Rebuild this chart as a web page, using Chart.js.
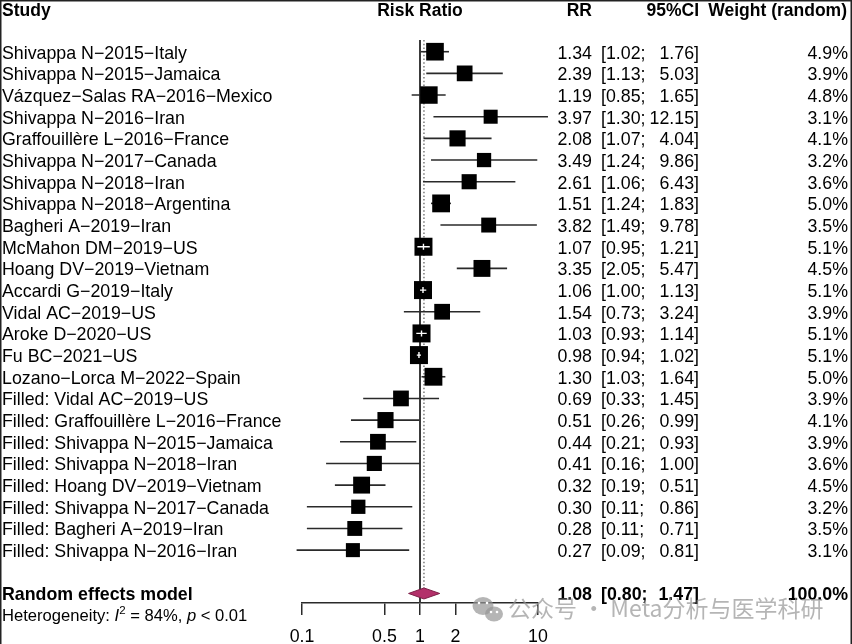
<!DOCTYPE html>
<html>
<head>
<meta charset="utf-8">
<script src="https://cdn.jsdelivr.net/npm/chart.js@4.4.0/dist/chart.umd.min.js"></script>
<style>
  html, body { margin: 0; padding: 0; background: #fff; }
  #wrap { position: relative; width: 852px; height: 644px; }
</style>
</head>
<body>
<div id="wrap"><canvas id="forest"></canvas></div>
<script>
// Study data
const studies = [
  'Shivappa N\u22122015\u2212Italy',
  'Shivappa N\u22122015\u2212Jamaica',
  'V\u00e1zquez\u2212Salas RA\u22122016\u2212Mexico',
  'Shivappa N\u22122016\u2212Iran',
  'Graffouill\u00e8re L\u22122016\u2212France',
  'Shivappa N\u22122017\u2212Canada',
  'Shivappa N\u22122018\u2212Iran',
  'Shivappa N\u22122018\u2212Argentina',
  'Bagheri A\u22122019\u2212Iran',
  'McMahon DM\u22122019\u2212US',
  'Hoang DV\u22122019\u2212Vietnam',
  'Accardi G\u22122019\u2212Italy',
  'Vidal AC\u22122019\u2212US',
  'Aroke D\u22122020\u2212US',
  'Fu BC\u22122021\u2212US',
  'Lozano\u2212Lorca M\u22122022\u2212Spain',
  'Filled: Vidal AC\u22122019\u2212US',
  'Filled: Graffouill\u00e8re L\u22122016\u2212France',
  'Filled: Shivappa N\u22122015\u2212Jamaica',
  'Filled: Shivappa N\u22122018\u2212Iran',
  'Filled: Hoang DV\u22122019\u2212Vietnam',
  'Filled: Shivappa N\u22122017\u2212Canada',
  'Filled: Bagheri A\u22122019\u2212Iran',
  'Filled: Shivappa N\u22122016\u2212Iran'
];
const rr      = [1.34, 2.39, 1.19, 3.97, 2.08, 3.49, 2.61, 1.51, 3.82, 1.07, 3.35, 1.06, 1.54, 1.03, 0.98, 1.30, 0.69, 0.51, 0.44, 0.41, 0.32, 0.30, 0.28, 0.27];
const ciLower = [1.02, 1.13, 0.85, 1.30, 1.07, 1.24, 1.06, 1.24, 1.49, 0.95, 2.05, 1.00, 0.73, 0.93, 0.94, 1.03, 0.33, 0.26, 0.21, 0.16, 0.19, 0.11, 0.11, 0.09];
const ciUpper = [1.76, 5.03, 1.65, 12.15, 4.04, 9.86, 6.43, 1.83, 9.78, 1.21, 5.47, 1.13, 3.24, 1.14, 1.02, 1.64, 1.45, 0.99, 0.93, 1.00, 0.51, 0.86, 0.71, 0.81];
const weights = [4.9, 3.9, 4.8, 3.1, 4.1, 3.2, 3.6, 5.0, 3.5, 5.1, 4.5, 5.1, 3.9, 5.1, 5.1, 5.0, 3.9, 4.1, 3.9, 3.6, 4.5, 3.2, 3.5, 3.1];

// Pooled estimate
const pooledLabel = 'Random effects model';
const pooledRR = 1.08;
const pooledLower = 0.80;
const pooledUpper = 1.47;
const pooledWeight = 100.0;

const tickValues = [0.1, 0.5, 1, 2, 10];

const FONT = '"Liberation Sans", Arial, Helvetica, sans-serif';
const pooledRow = studies.length + 1;
const maxWeight = Math.max(...weights);
const boxSide = (w) => 18 * Math.sqrt(w / maxWeight);

const points = rr.map((v, i) => ({ x: v, y: i }));

const forestPlugin = {
  id: 'forest',
  beforeDatasetsDraw(chart) {
    const { ctx, chartArea } = chart;
    const x = chart.scales.x, y = chart.scales.y;
    ctx.save();
    // line of no effect
    const x1 = x.getPixelForValue(1);
    ctx.strokeStyle = '#3a3a3a';
    ctx.lineWidth = 2;
    ctx.beginPath();
    ctx.moveTo(x1, chartArea.top);
    ctx.lineTo(x1, chartArea.bottom);
    ctx.stroke();
    // pooled estimate line (dotted)
    const xp = x.getPixelForValue(pooledRR);
    ctx.strokeStyle = '#7a7a7a';
    ctx.lineWidth = 1.5;
    ctx.setLineDash([1.5, 2.2]);
    ctx.beginPath();
    ctx.moveTo(xp, chartArea.top);
    ctx.lineTo(xp, y.getPixelForValue(pooledRow) - 5);
    ctx.stroke();
    ctx.setLineDash([]);
    // confidence intervals
    ctx.strokeStyle = '#2a2a2a';
    ctx.lineWidth = 1.6;
    rr.forEach((v, i) => {
      const py = y.getPixelForValue(i);
      ctx.beginPath();
      ctx.moveTo(x.getPixelForValue(ciLower[i]), py);
      ctx.lineTo(x.getPixelForValue(ciUpper[i]), py);
      ctx.stroke();
    });
    ctx.restore();
  },
  afterDatasetsDraw(chart) {
    const { ctx } = chart;
    const x = chart.scales.x, y = chart.scales.y;
    ctx.save();
    // CI drawn in white where it sits inside its box
    ctx.strokeStyle = '#fff';
    ctx.lineWidth = 1.4;
    rr.forEach((v, i) => {
      const cx = x.getPixelForValue(v), py = y.getPixelForValue(i);
      const half = boxSide(weights[i]) / 2;
      const lo = x.getPixelForValue(ciLower[i]), hi = x.getPixelForValue(ciUpper[i]);
      if (lo >= cx - half && hi <= cx + half) {
        ctx.beginPath();
        ctx.moveTo(lo, py); ctx.lineTo(hi, py);
        ctx.moveTo(cx, py - 3); ctx.lineTo(cx, py + 3);
        ctx.stroke();
      }
    });
    // pooled diamond
    const dy = y.getPixelForValue(pooledRow);
    ctx.beginPath();
    ctx.moveTo(x.getPixelForValue(pooledLower), dy);
    ctx.lineTo(x.getPixelForValue(pooledRR), dy - 5.5);
    ctx.lineTo(x.getPixelForValue(pooledUpper), dy);
    ctx.lineTo(x.getPixelForValue(pooledRR), dy + 5.5);
    ctx.closePath();
    ctx.fillStyle = '#b3306a';
    ctx.fill();
    ctx.strokeStyle = '#7d1f47';
    ctx.lineWidth = 1;
    ctx.stroke();
    ctx.restore();
  },
  afterDraw(chart) {
    const { ctx } = chart;
    const x = chart.scales.x, y = chart.scales.y;
    const W = chart.width;
    ctx.save();
    ctx.fillStyle = '#000';
    ctx.textBaseline = 'alphabetic';

    // header
    ctx.font = 'bold 17.5px ' + FONT;
    ctx.textAlign = 'left';
    ctx.fillText('Study', 2, 15.5);
    ctx.textAlign = 'center';
    ctx.fillText('Risk Ratio', x.getPixelForValue(1), 15.5);
    ctx.textAlign = 'right';
    ctx.fillText('RR', 592, 15.5);
    ctx.fillText('95%CI', 699, 15.5);
    ctx.fillText('Weight (random)', 847, 15.5);

    // study rows
    ctx.font = '17.8px ' + FONT;
    studies.forEach((s, i) => {
      const by = y.getPixelForValue(i) + 7;
      ctx.textAlign = 'left';
      ctx.fillText(s, 2, by);
      ctx.fillText('[' + ciLower[i].toFixed(2) + ';', 601, by);
      ctx.textAlign = 'right';
      ctx.fillText(rr[i].toFixed(2), 592, by);
      ctx.fillText(ciUpper[i].toFixed(2) + ']', 699, by);
      ctx.fillText(weights[i].toFixed(1) + '%', 848, by);
    });

    // pooled row
    const py = y.getPixelForValue(pooledRow) + 6.5;
    ctx.font = 'bold 17.8px ' + FONT;
    ctx.textAlign = 'left';
    ctx.fillText(pooledLabel, 2, py);
    ctx.fillText('[' + pooledLower.toFixed(2) + ';', 601, py);
    ctx.textAlign = 'right';
    ctx.fillText(pooledRR.toFixed(2), 592, py);
    ctx.fillText(pooledUpper.toFixed(2) + ']', 699, py);
    ctx.fillText(pooledWeight.toFixed(1) + '%', 848, py);

    // heterogeneity
    const hy = py + 21;
    ctx.textAlign = 'left';
    let hx = 2;
    const part = (txt, font, dyy) => {
      ctx.font = font;
      ctx.fillText(txt, hx, hy + (dyy || 0));
      hx += ctx.measureText(txt).width;
    };
    part('Heterogeneity: ', '16.6px ' + FONT);
    part('I', 'italic 16.6px ' + FONT);
    part('2', '11.5px ' + FONT, -7);
    part(' = 84%, ', '16.6px ' + FONT);
    part('p', 'italic 16.6px ' + FONT);
    part(' < 0.01', '16.6px ' + FONT);

    // watermark
    ctx.fillStyle = 'rgba(150,150,150,0.7)';
    ctx.beginPath();
    ctx.ellipse(483, 606, 10.5, 9, 0, 0, Math.PI * 2);
    ctx.fill();
    ctx.beginPath();
    ctx.ellipse(494, 614, 9, 7.5, 0, 0, Math.PI * 2);
    ctx.fill();
    ctx.fillStyle = '#fff';
    [[479, 603], [487, 603], [491, 612], [497, 612]].forEach(([cx, cy]) => {
      ctx.beginPath(); ctx.arc(cx, cy, 1.3, 0, Math.PI * 2); ctx.fill();
    });
    ctx.fillStyle = 'rgba(150,150,150,0.7)';
    ctx.font = '23px "Noto Sans CJK SC", sans-serif';
    ctx.textAlign = 'left';
    ctx.fillText('\u516c\u4f17\u53f7 \u00b7 Meta\u5206\u6790\u4e0e\u533b\u5b66\u79d1\u7814', 508, 617);

    // frame
    ctx.strokeStyle = '#222';
    ctx.lineWidth = 2;
    ctx.beginPath();
    ctx.moveTo(0.5, chart.height); ctx.lineTo(0.5, 0.5);
    ctx.lineTo(W - 0.5, 0.5); ctx.lineTo(W - 0.5, chart.height);
    ctx.stroke();
    ctx.restore();
  }
};

new Chart(document.getElementById('forest'), {
  type: 'scatter',
  data: {
    datasets: [{
      data: points,
      pointStyle: 'rect',
      pointRadius: weights.map(w => boxSide(w) / Math.SQRT2),
      pointHoverRadius: weights.map(w => boxSide(w) / Math.SQRT2),
      backgroundColor: '#000',
      borderWidth: 0,
      clip: false
    }]
  },
  options: {
    responsive: true,
    maintainAspectRatio: false,
    animation: false,
    events: [],
    layout: { padding: { left: 302, right: 314, top: 40, bottom: 0 } },
    plugins: { legend: { display: false }, tooltip: { enabled: false } },
    scales: {
      x: {
        type: 'logarithmic',
        min: 0.1,
        max: 10,
        position: 'bottom',
        afterFit: (s) => { s.height = 41; },
        afterBuildTicks: (s) => { s.ticks = tickValues.map(v => ({ value: v })); },
        ticks: {
          autoSkip: false,
          maxRotation: 0,
          padding: 11,
          color: '#000',
          font: { family: FONT, size: 17.8 },
          callback: (v) => tickValues.includes(v) ? String(v) : ''
        },
        grid: { drawOnChartArea: false, drawTicks: true, tickLength: 12, color: '#2a2a2a', lineWidth: 1.5 },
        border: { color: '#2a2a2a', width: 1.5 }
      },
      y: {
        type: 'linear',
        display: false,
        reverse: true,
        min: -0.54,
        max: 25.44
      }
    }
  },
  plugins: [forestPlugin]
});
</script>
</body>
</html>
